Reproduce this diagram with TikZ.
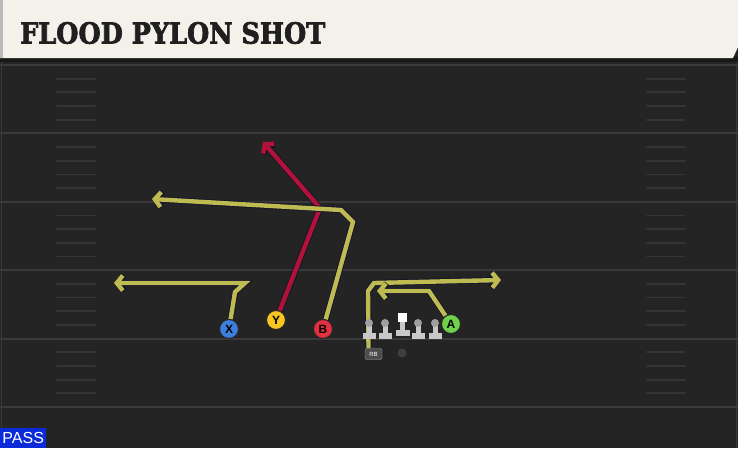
\documentclass[tikz,border=0pt]{standalone}
\usepackage{fontspec}
\setsansfont{Liberation Sans}
\newfontfamily\titlefont[BoldFont={DejaVu Serif Bold}, BoldFeatures={FakeBold=2.5}]{DejaVu Serif}
\usepackage{tikz}
\usetikzlibrary{arrows.meta,calc,positioning}
\definecolor{turf}{HTML}{242424}
\definecolor{yardline}{HTML}{3A3A3A}
\definecolor{hashgrey}{HTML}{353535}
\definecolor{banner}{HTML}{F4F1EA}
\definecolor{routegold}{HTML}{BDBB52}
\definecolor{routered}{HTML}{B0123A}
\definecolor{routeedge}{HTML}{15152A}
\definecolor{xblue}{HTML}{3C7FDC}
\definecolor{yyellow}{HTML}{F6C623}
\definecolor{bred}{HTML}{E2303F}
\definecolor{agreen}{HTML}{6ED24A}
\definecolor{linegrey}{HTML}{C8C8C8}
\definecolor{passblue}{HTML}{0B2BD8}
\pgfdeclarelayer{field}
\pgfdeclarelayer{routes}
\pgfsetlayers{field,routes,main}
\tikzstyle{route} = [draw=routegold, line width=4.4pt, miter limit=10,
                     -{Straight Barb[length=6pt,width=15pt]},
                     preaction={draw=routeedge, line width=6.2pt}]
\tikzstyle{redroute} = [route, draw=routered]
\tikzstyle{player} = [circle, draw=black!85, line width=1pt, minimum size=19pt, inner sep=0pt,
                      font={\sffamily\bfseries\fontsize{12}{12}\selectfont}]
\tikzstyle{head} = [circle, fill=gray!75, minimum size=8pt, inner sep=0pt]
\tikzstyle{snap} = [rectangle, fill=white, minimum size=9pt, inner sep=0pt]
\tikzstyle{body} = [fill=linegrey]
\tikzstyle{back} = [rectangle, rounded corners=2pt, fill=gray!60!black, draw=gray!80,
                    minimum width=17pt, minimum height=11pt, inner sep=0pt, text=white,
                    font={\sffamily\fontsize{6}{6}\selectfont}]
\tikzstyle{yard} = [draw=yardline, line width=2pt]
\tikzstyle{hash} = [draw=hashgrey, line width=1.8pt, line cap=round]
\begin{document}
\begin{tikzpicture}[x=1pt, y=-1pt]
      \useasboundingbox (0,0) rectangle (738,448);
      \begin{pgfonlayer}{field}
        \fill[turf] (0,0) rectangle (738,448);
        \foreach \k in {0,...,5}
          \draw[yard] (0,{65+68.4*\k}) -- (738,{65+68.4*\k});
        \foreach \k in {0,...,4}
          \foreach \j in {1,...,4} {
            \draw[hash] (57,{65+68.4*\k+13.68*\j}) -- (95,{65+68.4*\k+13.68*\j});
            \draw[hash] (647,{65+68.4*\k+13.68*\j}) -- (685,{65+68.4*\k+13.68*\j});
          }
        \draw[yardline, line width=1.5pt] (1.5,60) -- (1.5,448);
        \draw[yardline, line width=1.5pt] (736.5,60) -- (736.5,448);
        \fill[black!90] (0,56) rectangle (738,62);
        \fill[banner] (0,0) -- (738,0) -- (738,47) -- (733,58) -- (0,58) -- cycle;
        \fill[gray!55] (0,0) rectangle (3,58);
      \end{pgfonlayer}
      \node [anchor=west, text=black!88, inner sep=0pt] (title) at (20,33)
        {\scalebox{0.88}[1]{\titlefont\bfseries\fontsize{29}{29}\selectfont FLOOD PYLON SHOT}};
      \node [anchor=south west, fill=passblue, text=white, inner sep=0pt,
             minimum width=46pt, minimum height=20pt,
             font={\sffamily\fontsize{16}{16}\selectfont}] (pass) at (0,448) {PASS};
      \node [player, fill=xblue] (X) at (229,329) {X};
      \node [player, fill=yyellow] (Y) at (276,320) {Y};
      \node [player, fill=bred] (B) at (323,329) {B};
      \node [player, fill=agreen] (A) at (451,324) {A};
      \foreach \n/\x in {lt/369, lg/385, rg/418, rt/435} {
        \fill[body] (\x-6.5,333) rectangle (\x+6.5,338.5);
        \fill[body] (\x-2.5,326) rectangle (\x+2.5,333);
        \node [head] (\n) at (\x,323) {};
      }
      \fill[body] (395.5,330) rectangle (409.5,335.5);
      \fill[body] (400,322) rectangle (405,330);
      \node [snap] (C) at (402.5,317.5) {};
      \node [back] (RB) at (373.5,354) {RB};
      \node [circle, fill=gray!50!black, minimum size=9pt, inner sep=0pt] (QB) at (402,353) {};
      \coordinate (xend) at (114,283);
      \coordinate (yend) at (263,142);
      \coordinate (bend) at (152,199);
      \coordinate (rbend) at (501,280);
      \coordinate (aend) at (377,291);
      \begin{pgfonlayer}{routes}
        \path [route] (X) -- (235,292) -- (245,283) -- (xend);
        \path [redroute] (Y) -- (320,208) -- (yend);
        \path [route] (B) -- (353,222) -- (341,210) -- (bend);
        \path [route] ([xshift=-5pt]RB.north) -- (368,291) -- (374,283) -- (rbend);
        \path [route] (A) -- (429,291) -- (aend);
      \end{pgfonlayer}
    \end{tikzpicture}
\end{document}
